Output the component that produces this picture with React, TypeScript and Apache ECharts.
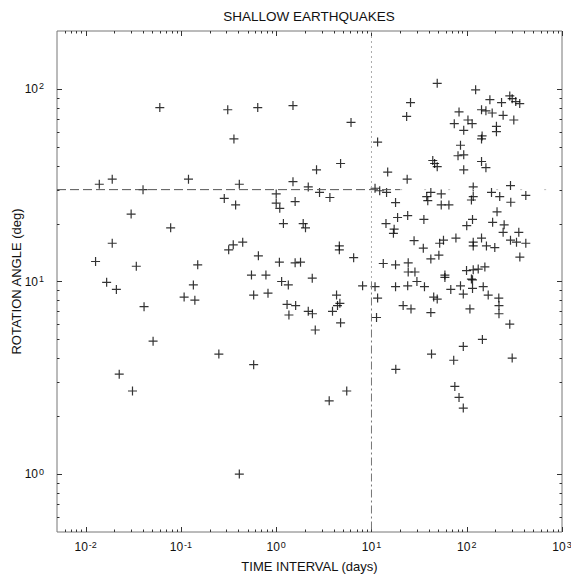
import React, { useEffect, useRef } from 'react';
import * as echarts from 'echarts';

// Earthquake pairs: [time interval (days), rotation angle (deg)]
const shortIntervalPairs: [number, number][] = [
  [0.06, 80], [0.31, 78], [0.64, 80], [1.5, 82], [0.36, 55], [2.65, 38],
  [0.0139, 32], [0.019, 34], [0.04, 30], [0.12, 34], [0.41, 32], [0.285, 27],
  [0.375, 25], [1.0, 28.5], [1.0, 25.5], [1.09, 24], [1.5, 33], [1.58, 26],
  [2.17, 31], [2.85, 29], [0.03, 22.4], [0.078, 19], [1.19, 20], [1.92, 20],
  [2.03, 19], [0.019, 15.8], [0.0127, 12.7], [0.034, 12], [0.15, 12.2],
  [0.317, 14.6], [0.354, 15.5], [0.445, 16], [0.65, 13.6], [1.08, 12.6],
  [1.58, 12.5], [1.8, 12.6], [2.39, 10.4], [0.0166, 9.9], [0.021, 9.1],
  [0.135, 9.6], [0.55, 10.8], [0.78, 10.8], [1.14, 10], [1.34, 9.6],
  [0.108, 8.3], [0.14, 8.0], [0.58, 8.5], [0.82, 8.7],
  [0.041, 7.4], [0.051, 4.9], [0.0225, 3.3], [0.031, 2.7], [0.25, 4.2],
  [0.58, 3.7], [0.41, 1.0], [1.3, 7.6], [1.6, 7.5], [1.36, 6.7], [2.17, 7.0],
  [2.4, 6.8], [2.57, 5.6],
  [8.07, 9.5], [4.3, 8.5], [4.66, 7.7], [3.9, 7.0], [4.4, 7.5], [4.74, 6.1],
  [3.6, 2.4], [5.5, 2.7], [6.1, 67], [4.74, 41], [3.66, 27.3], [4.6, 15.3],
  [4.6, 14.6], [6.5, 13.3],
];

const longIntervalPairs: [number, number][] = [
  [10.9, 9.4], [11.6, 8.2], [11.3, 6.5], [17.9, 9.4], [24, 9.5], [30, 10],
  [36, 9.4], [21.5, 7.5], [26, 7.2], [42, 6.9], [45, 8.3], [49, 8.1],
  [42.7, 4.2], [18, 3.5], [68, 9.1], [86, 9.5], [92, 8.6], [115, 10.2],
  [115, 9.2], [108, 7.2], [149, 9.4], [168, 8.5], [217, 8.2], [218, 7.5],
  [218, 6.8], [283, 6.0], [146, 5.0], [92, 4.6], [73, 3.9], [300, 4.0],
  [75, 2.85], [83, 2.5], [92, 2.2],
  [49, 107], [124, 99], [175, 88], [232, 85], [283, 92], [300, 89], [327, 86],
  [360, 84], [25.7, 85], [23.4, 72], [11.6, 53], [83, 76], [74, 66], [103, 69],
  [114, 66], [93, 61], [143, 78], [159, 77], [185, 75], [241, 73], [312, 69],
  [205, 64], [205, 60], [145, 57], [143, 55], [86, 51], [81, 45], [93, 45.5],
  [93, 38], [44, 42.5], [46, 41], [49, 39.5], [143, 42], [159, 39],
  [14.8, 37], [23.7, 34], [10.9, 30.5], [12.2, 29.6], [14.4, 29], [17.9, 25.7],
  [38, 27.6], [39, 26.3], [42, 29], [54, 28.5], [54, 25], [65, 25], [117, 31],
  [117, 27.6], [112, 26.5], [182, 29], [222, 27.6], [288, 31.5], [290, 25.8],
  [417, 28], [208, 23], [187, 20.3], [247, 19.7], [241, 18], [352, 18],
  [288, 16.4], [333, 16], [417, 15.8], [361, 13.4], [197, 15], [161, 15.3],
  [143, 16.8], [117, 16], [117, 15.3], [115, 21], [100, 19.5], [77, 16.8],
  [57, 16.4], [52, 15.8], [51, 13.7], [42, 13.1], [35, 14.9], [28, 16.3],
  [35.5, 21], [24, 22], [18.8, 21.5], [14.2, 20], [17.3, 18.7], [17, 17.8],
  [13.3, 12.4], [17.9, 12.2], [24.3, 12.5], [24.3, 11.2], [28.6, 11.2],
  [59, 10.8], [59, 10.5], [99.5, 11.4], [117, 11.5], [132, 11.6], [155, 11.9],
  [112, 10.3],
];

// Axis ranges and labelled decades
const xRange = [0.005, 1000];
const yRange = [0.5, 200];
const xTickExponents = [-2, -1, 0, 1, 2, 3];
const yTickExponents = [0, 1, 2];

// Reference lines
const angleThreshold = 30;
const intervalThreshold = 10;

const FONT = '"Liberation Sans", Arial, Helvetica, sans-serif';

function minorTicks(lo: number, hi: number): number[] {
  const out: number[] = [];
  for (let e = Math.floor(Math.log10(lo)); e <= Math.ceil(Math.log10(hi)); e++) {
    for (let m = 2; m <= 9; m++) {
      const v = m * Math.pow(10, e);
      if (v > lo * 1.0001 && v < hi * 0.9999) out.push(v);
    }
  }
  return out;
}

function powLabel(exps: number[]) {
  return (v: number) => {
    const l = Math.log10(v);
    const e = Math.round(l);
    if (Math.abs(l - e) > 1e-6 || exps.indexOf(e) < 0) return '';
    return `{b|10}{s|${e}}`;
  };
}

const labelRich = {
  b: { fontSize: 12, fontFamily: FONT, color: '#111', lineHeight: 14 },
  s: { fontSize: 9, fontFamily: FONT, color: '#111', verticalAlign: 'top' as const, lineHeight: 14, padding: [0, 0, 0, 1] },
};

const plusSymbol = 'path://M5,0 L5,10 M0,5 L10,5';
const plusStyle = { color: 'none', borderColor: '#000', borderWidth: 1.2 };

export default function App() {
  const ref = useRef<HTMLDivElement>(null);
  useEffect(() => {
    if (!ref.current) return;
    const chart = echarts.init(ref.current, undefined, { renderer: 'svg' });

    const xTickData: number[][] = [
      ...xTickExponents.map((e) => [Math.pow(10, e), 1, 1]),
      ...minorTicks(xRange[0], xRange[1]).map((v) => [v, 1, 0]),
    ];
    const yTickData: number[][] = [
      ...yTickExponents.map((e) => [1, Math.pow(10, e), 1]),
      ...minorTicks(yRange[0], yRange[1]).map((v) => [1, v, 0]),
    ];

    const tickStyle = { stroke: '#333', lineWidth: 1 };

    chart.setOption({
      animation: false,
      backgroundColor: '#fff',
      grid: {
        left: 57,
        right: 9,
        top: 31,
        bottom: 46,
        show: true,
        borderColor: '#777',
        borderWidth: 1,
        containLabel: false,
        outerBoundsMode: 'none',
      },
      graphic: [
        {
          type: 'text',
          x: 309,
          y: 16,
          style: {
            text: 'SHALLOW EARTHQUAKES',
            fontSize: 13.5,
            fontFamily: FONT,
            fill: '#111',
            textAlign: 'center',
            textVerticalAlign: 'middle',
          },
        },
      ],
      xAxis: {
        type: 'log',
        logBase: 10,
        min: xRange[0],
        max: xRange[1],
        name: 'TIME INTERVAL (days)',
        nameLocation: 'middle',
        nameGap: 28,
        nameMoveOverlap: false,
        nameTextStyle: { fontSize: 13, fontFamily: FONT, color: '#111' },
        axisLine: { show: false },
        axisTick: { show: false },
        splitLine: { show: false },
        minorTick: { show: false },
        axisLabel: {
          margin: 8,
          formatter: powLabel(xTickExponents),
          rich: labelRich,
          showMinLabel: true,
          showMaxLabel: true,
          hideOverlap: false,
        },
      },
      yAxis: {
        type: 'log',
        logBase: 10,
        min: yRange[0],
        max: yRange[1],
        name: 'ROTATION ANGLE (deg)',
        nameLocation: 'middle',
        nameGap: 34,
        nameMoveOverlap: false,
        nameTextStyle: { fontSize: 13, fontFamily: FONT, color: '#111' },
        axisLine: { show: false },
        axisTick: { show: false },
        splitLine: { show: false },
        minorTick: { show: false },
        axisLabel: {
          margin: 13,
          formatter: powLabel(yTickExponents),
          rich: labelRich,
          hideOverlap: false,
        },
      },
      series: [
        {
          type: 'custom',
          name: 'xticks',
          silent: true,
          clip: false,
          data: xTickData,
          renderItem: (params: any, api: any) => {
            const p = api.coord([api.value(0), api.value(1)]);
            const cs = params.coordSys;
            const len = api.value(2) ? 5 : 2.5;
            const x = Math.round(p[0]) + 0.5;
            const yb = cs.y + cs.height;
            return {
              type: 'group',
              children: [
                { type: 'line', shape: { x1: x, y1: yb, x2: x, y2: yb - len }, style: tickStyle },
                { type: 'line', shape: { x1: x, y1: cs.y, x2: x, y2: cs.y + len }, style: tickStyle },
              ],
            };
          },
        },
        {
          type: 'custom',
          name: 'yticks',
          silent: true,
          clip: false,
          data: yTickData,
          renderItem: (params: any, api: any) => {
            const p = api.coord([api.value(0), api.value(1)]);
            const cs = params.coordSys;
            const len = api.value(2) ? 5 : 2.5;
            const y = Math.round(p[1]) + 0.5;
            const xr = cs.x + cs.width;
            return {
              type: 'group',
              children: [
                { type: 'line', shape: { x1: cs.x, y1: y, x2: cs.x + len, y2: y }, style: tickStyle },
                { type: 'line', shape: { x1: xr, y1: y, x2: xr - len, y2: y }, style: tickStyle },
              ],
            };
          },
        },
        {
          type: 'line',
          silent: true,
          symbol: 'none',
          data: [[xRange[0], angleThreshold], [intervalThreshold * 2, angleThreshold]],
          lineStyle: { color: '#555', width: 1, type: [9, 4] },
        },
        {
          type: 'line',
          silent: true,
          symbol: 'none',
          data: [[intervalThreshold * 2, angleThreshold], [xRange[1], angleThreshold]],
          lineStyle: { color: '#bbb', width: 1, type: [2, 22] },
        },
        {
          type: 'line',
          silent: true,
          symbol: 'none',
          data: [[intervalThreshold, yRange[1]], [intervalThreshold, 10]],
          lineStyle: { color: '#aaa', width: 1, type: [2, 3] },
        },
        {
          type: 'line',
          silent: true,
          symbol: 'none',
          data: [[intervalThreshold, 10], [intervalThreshold, yRange[0]]],
          lineStyle: { color: '#777', width: 1, type: [8, 3, 2, 3] },
        },
        {
          type: 'scatter',
          name: 'short',
          symbol: plusSymbol,
          symbolSize: 9,
          itemStyle: plusStyle,
          data: shortIntervalPairs,
        },
        {
          type: 'scatter',
          name: 'long',
          symbol: plusSymbol,
          symbolSize: 9,
          itemStyle: plusStyle,
          data: longIntervalPairs,
        },
      ],
    });
    return () => chart.dispose();
  }, []);

  return (
    <div
      ref={ref}
      style={{ position: 'fixed', left: 0, top: 0, width: 571, height: 578, background: '#fff' }}
    />
  );
}
